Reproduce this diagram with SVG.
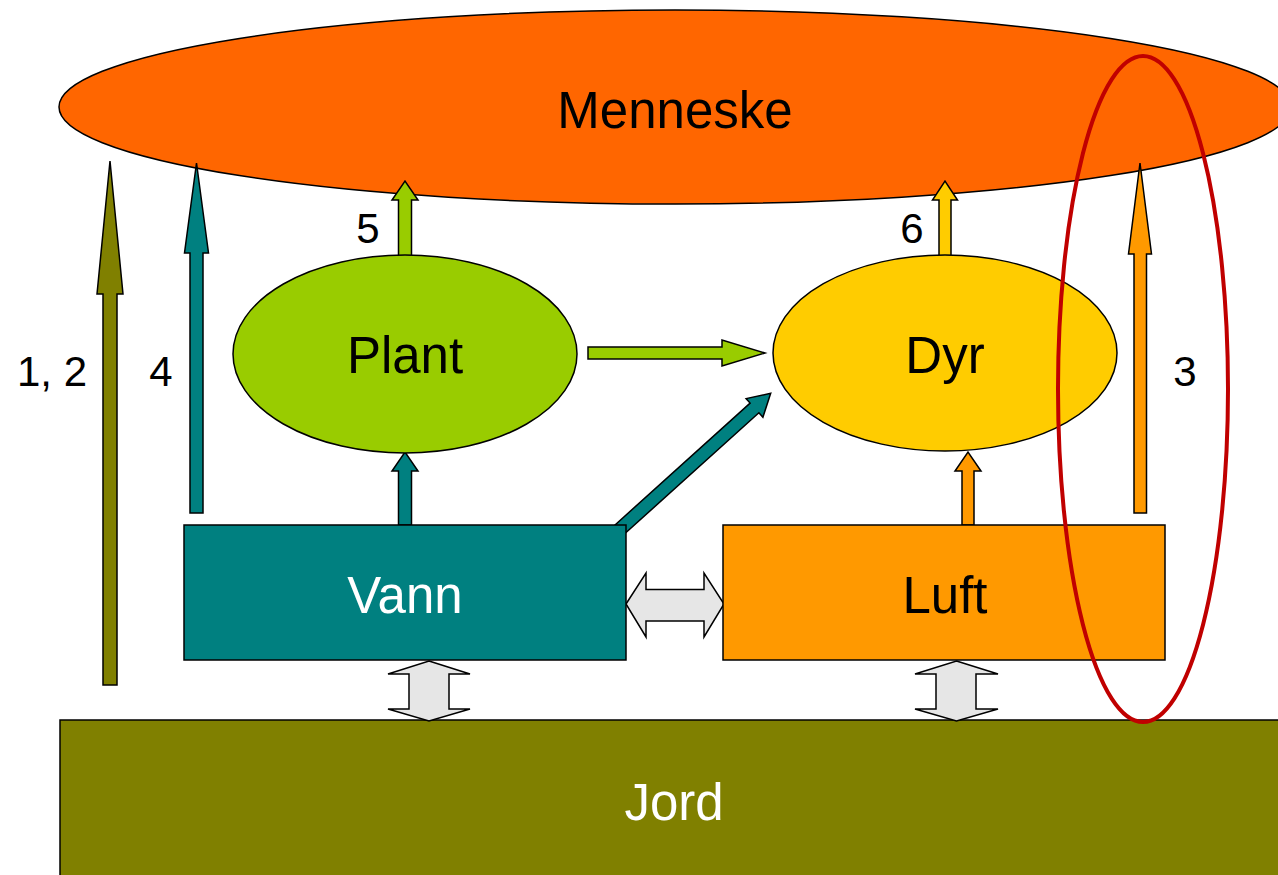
<svg xmlns="http://www.w3.org/2000/svg" width="1278" height="875" viewBox="0 0 1278 875">
<style>
.s{stroke:#000;stroke-width:1.5;stroke-linejoin:miter}
.t{font-family:"Liberation Sans",Arial,sans-serif;text-anchor:middle}
.big{font-size:51px}
.num{font-size:42px;fill:#000}
</style>
<rect width="1278" height="875" fill="#fff"/>
<g id="menneske">
<ellipse class="s" cx="675" cy="107" rx="616" ry="97" fill="#FF6600"/>
<text class="t big" x="675" y="128" fill="#000">Menneske</text>
</g>
<g id="jord">
<rect class="s" x="60" y="720" width="1230" height="170" fill="#808000"/>
<text class="t big" x="674" y="820" fill="#fff">Jord</text>
</g>
<g id="connectors">
<polygon class="s" fill="#808000" points="103,685 103,294 97,294 110,161 123,294 117,294 117,685"/>
<polygon class="s" fill="#008080" points="190,513 190,253 184.5,253 196.5,163 208.5,253 203,253 203,513"/>
<polygon class="s" fill="#FF9900" points="1134,513 1134,254 1128.5,254 1140,163 1151.5,254 1146.5,254 1146.5,513"/>
<polygon class="s" fill="#99CC00" points="398.5,256 398.5,200 392,200 405,181 418,200 411.5,200 411.5,256"/>
<polygon class="s" fill="#FFCC00" points="939,256 939,200 932.5,200 945,181 957.5,200 951,200 951,256"/>
<polygon class="s" fill="#008080" points="398.5,525 398.5,471 392,471 405,452 418,471 411.5,471 411.5,525"/>
<polygon class="s" fill="#FF9900" points="962,525 962,471 955,471 968,452 981,471 974,471 974,525"/>
<polygon class="s" fill="#99CC00" points="588,347 722,347 722,340 765,353 722,366 722,359 588,359"/>
<polygon class="s" fill="#008080" points="610.3,529.2 750.1,403.1 746.1,398.6 770.7,393.3 762.9,417.2 758.9,412.7 619.1,538.8"/>
<polygon class="s" fill="#E6E6E6" points="626,604 646,573 646,589.5 704,589.5 704,573 724,604 704,637 704,621 646,621 646,637"/>
<polygon class="s" fill="#E6E6E6" points="429,661 470,674 449,674 449,709 470,709 429,721 388,709 409,709 409,674 388,674"/>
<polygon class="s" fill="#E6E6E6" points="956.5,661 998,674 976,674 976,709 998,709 956.5,721 915,709 936,709 936,674 915,674"/>
</g>
<g id="plant">
<ellipse class="s" cx="405" cy="354" rx="172" ry="99" fill="#99CC00"/>
<text class="t big" x="405" y="373" fill="#000">Plant</text>
</g>
<g id="dyr">
<ellipse class="s" cx="945" cy="353" rx="172" ry="98" fill="#FFCC00"/>
<text class="t big" x="945" y="373" fill="#000">Dyr</text>
</g>
<g id="vann">
<rect class="s" x="184" y="525" width="442" height="135" fill="#008080"/>
<text class="t big" x="405" y="613" fill="#fff">Vann</text>
</g>
<g id="luft">
<rect class="s" x="723" y="525" width="442" height="135" fill="#FF9900"/>
<text class="t big" x="945" y="613" fill="#000">Luft</text>
</g>
<g id="labels">
<text class="t num" x="52" y="386">1, 2</text>
<text class="t num" x="161" y="386">4</text>
<text class="t num" x="1185" y="386">3</text>
<text class="t num" x="368" y="243">5</text>
<text class="t num" x="912" y="243">6</text>
</g>
<g id="highlight">
<ellipse cx="1143" cy="389" rx="85" ry="333" fill="none" stroke="#C00000" stroke-width="4"/>
</g>
</svg>
